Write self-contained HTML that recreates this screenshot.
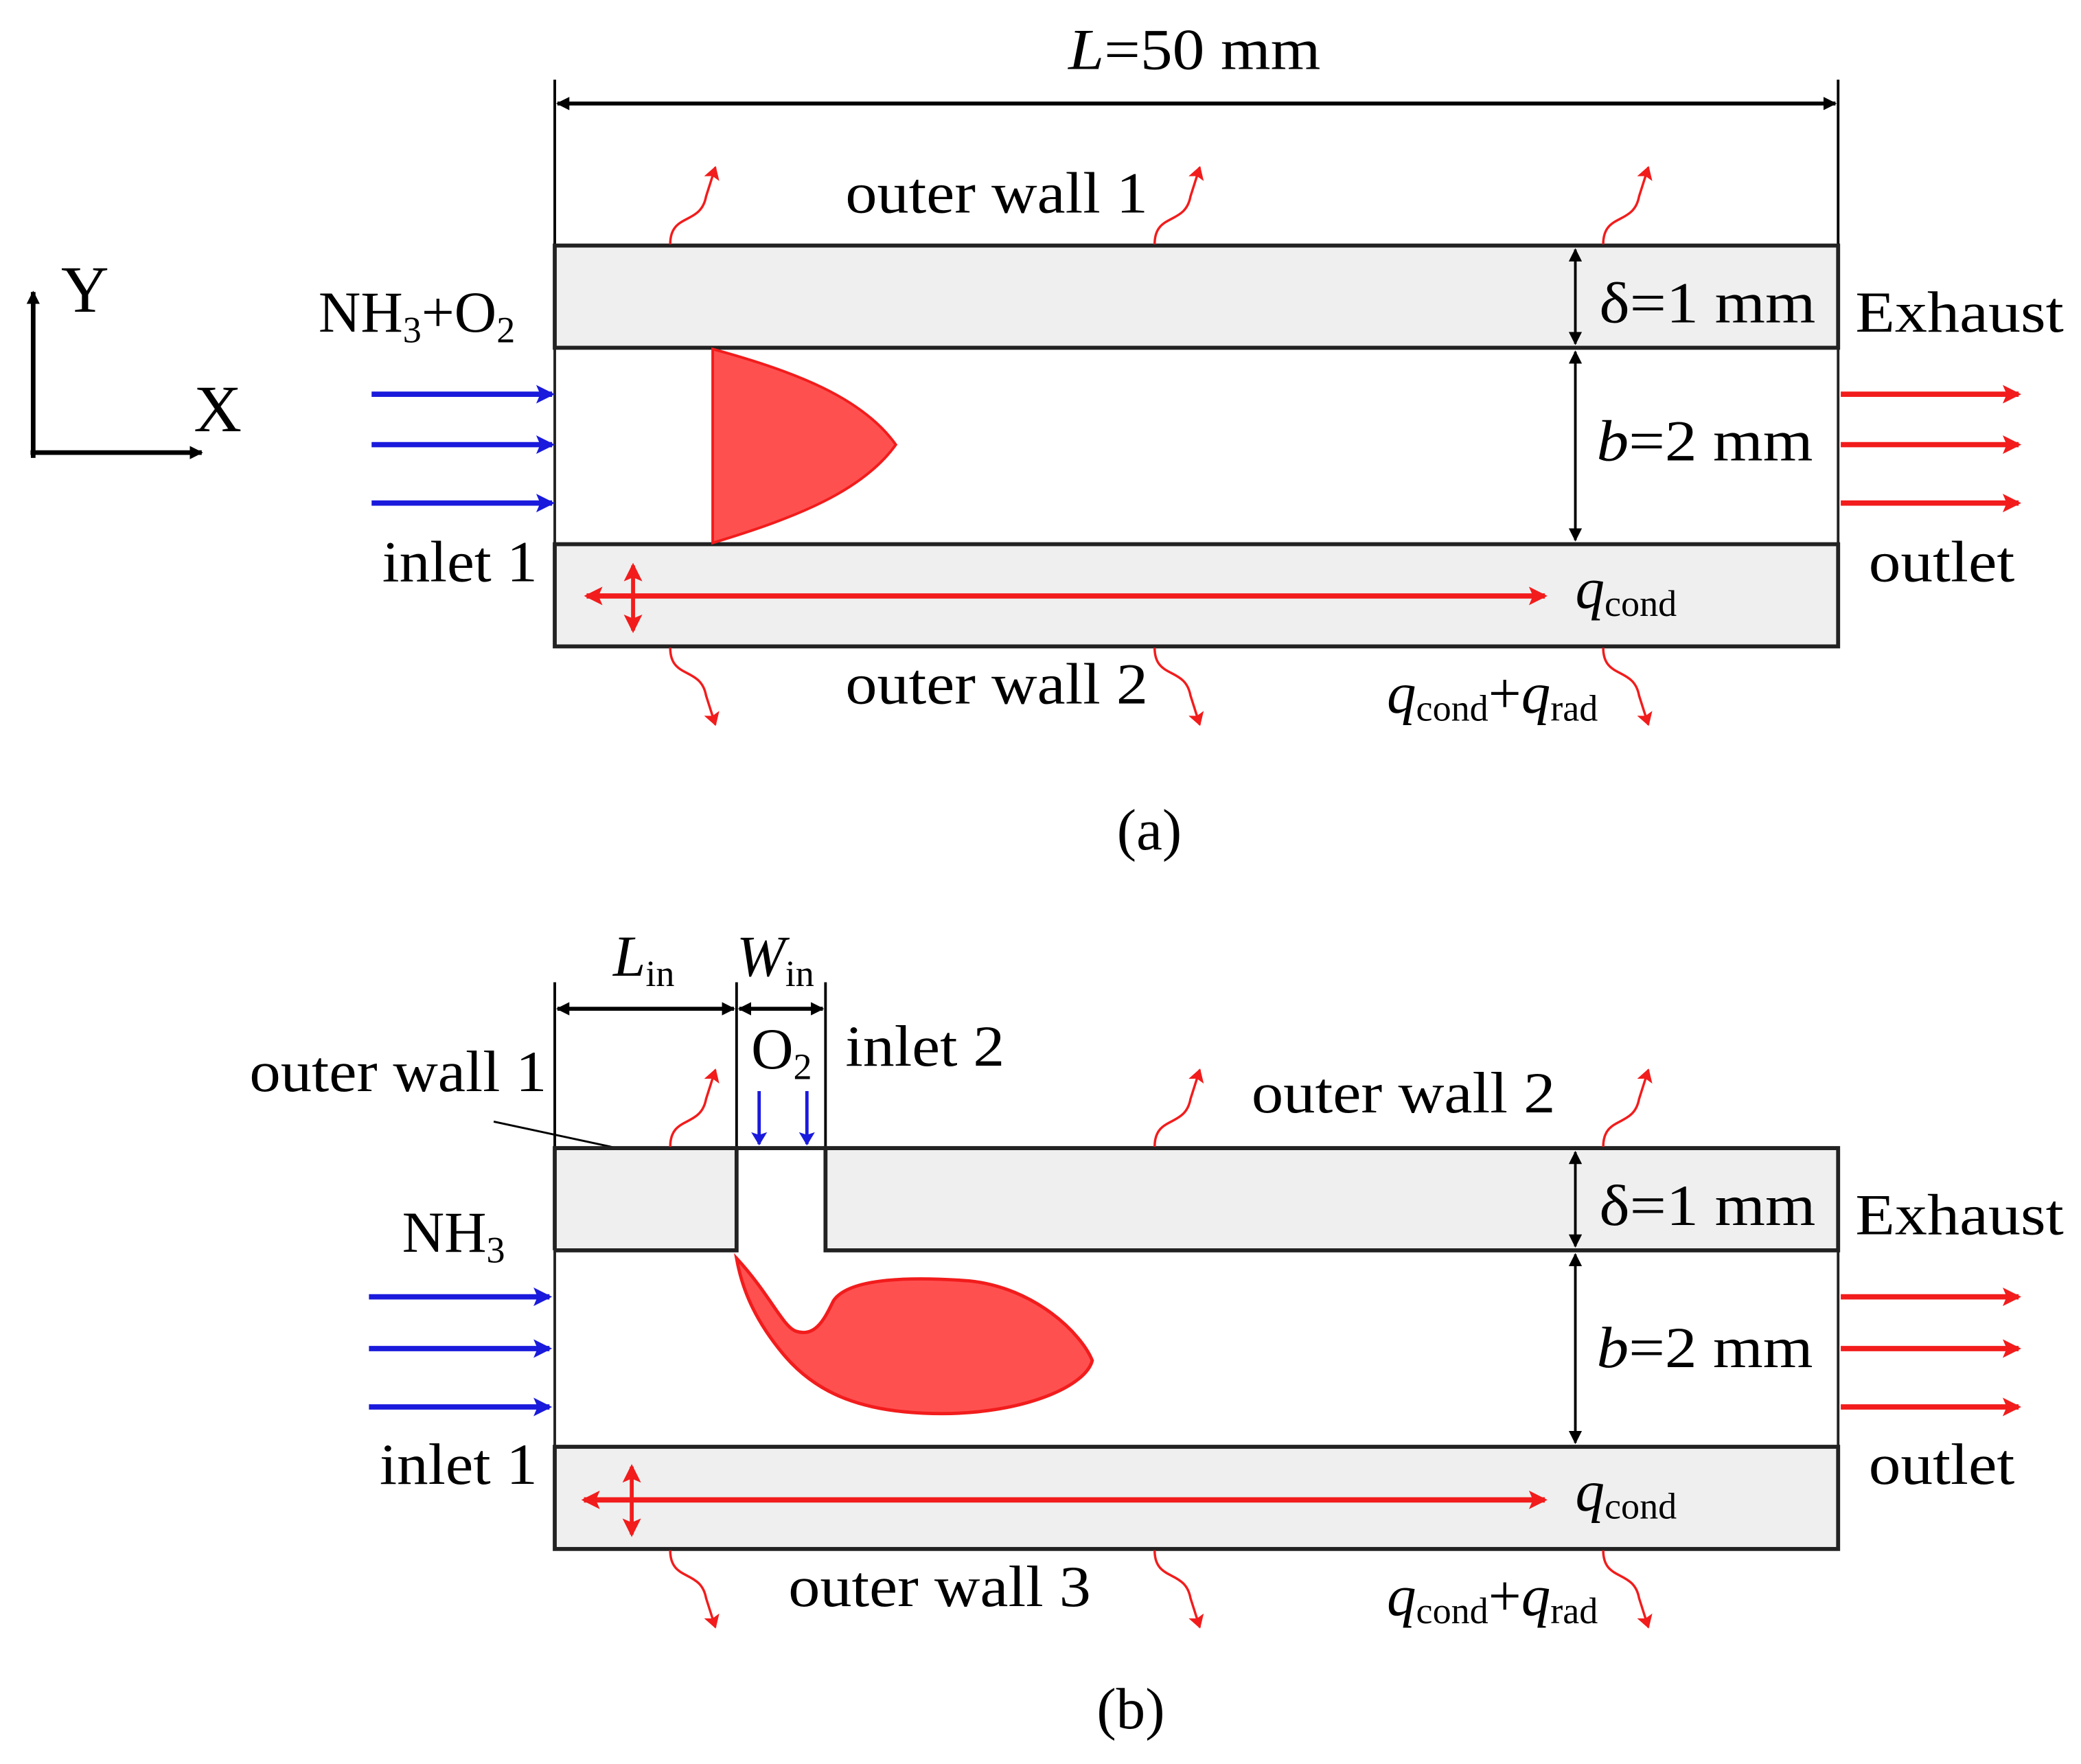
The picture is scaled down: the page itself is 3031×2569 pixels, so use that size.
<!DOCTYPE html>
<html><head><meta charset="utf-8"><style>html,body{margin:0;padding:0;background:#fff}svg{display:block}</style></head>
<body>
<svg width="3031" height="2569" viewBox="0 0 1568 1329" xmlns="http://www.w3.org/2000/svg" font-family="Liberation Serif, serif" font-size="44">
<defs>
<marker id="ak" markerWidth="10" markerHeight="10" refX="9" refY="5" orient="auto-start-reverse" markerUnits="userSpaceOnUse"><path d="M0,0 L10,5 L0,10 z" fill="#000"/></marker>
<marker id="ab" markerWidth="14" markerHeight="14" refX="12" refY="7" orient="auto" markerUnits="userSpaceOnUse"><path d="M0,0 L14,7 L0,14 L3,7 z" fill="#1a1adc"/></marker>
<marker id="ar" markerWidth="14" markerHeight="14" refX="12" refY="7" orient="auto-start-reverse" markerUnits="userSpaceOnUse"><path d="M0,0 L14,7 L0,14 L3,7 z" fill="#f21c1c"/></marker>
<marker id="ars" markerWidth="10" markerHeight="12" refX="9" refY="6" orient="auto" markerUnits="userSpaceOnUse"><path d="M0,0 L10,6 L0,12 L2,6 z" fill="#f21c1c"/></marker>
<marker id="abs" markerWidth="10" markerHeight="12" refX="9" refY="6" orient="auto" markerUnits="userSpaceOnUse"><path d="M0,0 L10,6 L0,12 L2,6 z" fill="#1a1adc"/></marker>
</defs>

<!-- ===== (a) ===== -->
<g>
<text x="805" y="52" textLength="190" lengthAdjust="spacingAndGlyphs"><tspan font-style="italic">L</tspan>=50 mm</text>
<line x1="418" y1="60" x2="418" y2="185" stroke="#000" stroke-width="2"/>
<line x1="1385" y1="60" x2="1385" y2="185" stroke="#000" stroke-width="2"/>
<line x1="420" y1="78" x2="1383" y2="78" stroke="#000" stroke-width="3" marker-start="url(#ak)" marker-end="url(#ak)"/>
<rect x="418" y="185" width="967" height="77" fill="#efefef" stroke="#222" stroke-width="3"/>
<rect x="418" y="410" width="967" height="77" fill="#efefef" stroke="#222" stroke-width="3"/>
<line x1="418" y1="262" x2="418" y2="410" stroke="#222" stroke-width="2"/>
<line x1="1385" y1="262" x2="1385" y2="410" stroke="#222" stroke-width="2"/>
<path d="M537,263 C600,280 650,300 675,335 C650,370 600,390 537,409 Z" fill="#ff5050" stroke="#f21c1c" stroke-width="2"/>
<line x1="1187" y1="188" x2="1187" y2="259" stroke="#000" stroke-width="2" marker-start="url(#ak)" marker-end="url(#ak)"/>
<line x1="1187" y1="265" x2="1187" y2="407" stroke="#000" stroke-width="2" marker-start="url(#ak)" marker-end="url(#ak)"/>
<text x="1205" y="243" textLength="163" lengthAdjust="spacingAndGlyphs">δ=1 mm</text>
<text x="1203" y="347" textLength="163" lengthAdjust="spacingAndGlyphs"><tspan font-style="italic">b</tspan>=2 mm</text>
<text x="1398" y="250" textLength="157" lengthAdjust="spacingAndGlyphs">Exhaust</text>
<text x="240" y="250">NH<tspan font-size="28" dy="8">3</tspan><tspan dy="-8">+O</tspan><tspan font-size="28" dy="8">2</tspan></text>
<line x1="25" y1="345" x2="25" y2="220" stroke="#000" stroke-width="3.5" marker-end="url(#ak)"/>
<line x1="23" y1="341" x2="152" y2="341" stroke="#000" stroke-width="3.5" marker-end="url(#ak)"/>
<text x="46" y="235" font-size="50">Y</text>
<text x="146" y="325" font-size="50">X</text>
<g stroke="#1a1adc" stroke-width="4">
<line x1="280" y1="297" x2="416" y2="297" marker-end="url(#ab)"/>
<line x1="280" y1="335" x2="416" y2="335" marker-end="url(#ab)"/>
<line x1="280" y1="379" x2="416" y2="379" marker-end="url(#ab)"/>
</g>
<g stroke="#f21c1c" stroke-width="4">
<line x1="1387" y1="297" x2="1521" y2="297" marker-end="url(#ar)"/>
<line x1="1387" y1="335" x2="1521" y2="335" marker-end="url(#ar)"/>
<line x1="1387" y1="379" x2="1521" y2="379" marker-end="url(#ar)"/>
<line x1="442" y1="449" x2="1164" y2="449" marker-start="url(#ar)" marker-end="url(#ar)"/>
<line x1="477" y1="426" x2="477" y2="475" stroke-width="3" marker-start="url(#ar)" marker-end="url(#ar)"/>
</g>
<text x="288" y="438" textLength="117" lengthAdjust="spacingAndGlyphs">inlet 1</text>
<text x="1408" y="438" textLength="110" lengthAdjust="spacingAndGlyphs">outlet</text>
<text x="1187" y="458" font-style="italic">q<tspan font-style="normal" font-size="28" dy="6">cond</tspan></text>
<g fill="none" stroke="#f21c1c" stroke-width="1.8">
<path d="M505,184 C505,160 528,170 532,148 L539,126" marker-end="url(#ars)"/>
<path d="M870,184 C870,160 893,170 897,148 L904,126" marker-end="url(#ars)"/>
<path d="M1208,184 C1208,160 1231,170 1235,148 L1242,126" marker-end="url(#ars)"/>
<path d="M505,488 C505,512 528,502 532,524 L539,546" marker-end="url(#ars)"/>
<path d="M870,488 C870,512 893,502 897,524 L904,546" marker-end="url(#ars)"/>
<path d="M1208,488 C1208,512 1231,502 1235,524 L1242,546" marker-end="url(#ars)"/>
</g>
<text x="637" y="160" textLength="228" lengthAdjust="spacingAndGlyphs">outer wall 1</text>
<text x="637" y="530" textLength="228" lengthAdjust="spacingAndGlyphs">outer wall 2</text>
<text x="1045" y="537" font-style="italic">q<tspan font-style="normal" font-size="28" dy="6">cond</tspan><tspan font-style="normal" dy="-6">+</tspan>q<tspan font-style="normal" font-size="28" dy="6">rad</tspan></text>
<text x="866" y="640" text-anchor="middle">(a)</text>
</g>

<!-- ===== (b) ===== -->
<g>
<line x1="418" y1="740" x2="418" y2="865" stroke="#000" stroke-width="2"/>
<line x1="555" y1="740" x2="555" y2="865" stroke="#000" stroke-width="2"/>
<line x1="622" y1="740" x2="622" y2="865" stroke="#000" stroke-width="2"/>
<line x1="420" y1="760" x2="553" y2="760" stroke="#000" stroke-width="3" marker-start="url(#ak)" marker-end="url(#ak)"/>
<line x1="557" y1="760" x2="620" y2="760" stroke="#000" stroke-width="3" marker-start="url(#ak)" marker-end="url(#ak)"/>
<text x="462" y="735"><tspan font-style="italic">L</tspan><tspan font-size="28" dy="8">in</tspan></text>
<text x="555" y="735"><tspan font-style="italic">W</tspan><tspan font-size="28" dy="8">in</tspan></text>
<text x="566" y="805">O<tspan font-size="28" dy="8">2</tspan></text>
<text x="637" y="803" textLength="120" lengthAdjust="spacingAndGlyphs">inlet 2</text>
<text x="188" y="822" textLength="224" lengthAdjust="spacingAndGlyphs">outer wall 1</text>
<line x1="372" y1="845" x2="465" y2="865" stroke="#000" stroke-width="1.5"/>
<rect x="418" y="865" width="137" height="77" fill="#efefef" stroke="none"/>
<rect x="622" y="865" width="763" height="77" fill="#efefef" stroke="none"/>
<path d="M418,942 L418,865 L555,865 L555,942 L418,942" fill="none" stroke="#222" stroke-width="3"/>
<path d="M622,865 L1385,865 L1385,942 L622,942 Z" fill="none" stroke="#222" stroke-width="3"/>
<line x1="555" y1="865" x2="622" y2="865" stroke="#222" stroke-width="3"/>
<rect x="418" y="1090" width="967" height="77" fill="#efefef" stroke="#222" stroke-width="3"/>
<line x1="418" y1="942" x2="418" y2="1090" stroke="#222" stroke-width="2"/>
<line x1="1385" y1="942" x2="1385" y2="1090" stroke="#222" stroke-width="2"/>
<g stroke="#1a1adc" stroke-width="2.5">
<line x1="572" y1="822" x2="572" y2="862" marker-end="url(#abs)"/>
<line x1="608" y1="822" x2="608" y2="862" marker-end="url(#abs)"/>
</g>
<path d="M555,948 C580,975 590,1000 600,1003 C615,1008 622,992 628,980 C640,962 690,962 730,965 C780,970 815,1005 823,1025 C818,1045 770,1065 710,1065 C650,1065 615,1050 590,1020 C565,990 558,965 555,948 Z" fill="#ff5050" stroke="#f21c1c" stroke-width="2.5"/>
<line x1="1187" y1="868" x2="1187" y2="939" stroke="#000" stroke-width="2" marker-start="url(#ak)" marker-end="url(#ak)"/>
<line x1="1187" y1="945" x2="1187" y2="1087" stroke="#000" stroke-width="2" marker-start="url(#ak)" marker-end="url(#ak)"/>
<text x="1205" y="923" textLength="163" lengthAdjust="spacingAndGlyphs">δ=1 mm</text>
<text x="1203" y="1030" textLength="163" lengthAdjust="spacingAndGlyphs"><tspan font-style="italic">b</tspan>=2 mm</text>
<text x="1398" y="930" textLength="157" lengthAdjust="spacingAndGlyphs">Exhaust</text>
<text x="303" y="943">NH<tspan font-size="28" dy="8">3</tspan></text>
<g stroke="#1a1adc" stroke-width="4">
<line x1="278" y1="977" x2="414" y2="977" marker-end="url(#ab)"/>
<line x1="278" y1="1016" x2="414" y2="1016" marker-end="url(#ab)"/>
<line x1="278" y1="1060" x2="414" y2="1060" marker-end="url(#ab)"/>
</g>
<g stroke="#f21c1c" stroke-width="4">
<line x1="1387" y1="977" x2="1521" y2="977" marker-end="url(#ar)"/>
<line x1="1387" y1="1016" x2="1521" y2="1016" marker-end="url(#ar)"/>
<line x1="1387" y1="1060" x2="1521" y2="1060" marker-end="url(#ar)"/>
<line x1="440" y1="1130" x2="1164" y2="1130" marker-start="url(#ar)" marker-end="url(#ar)"/>
<line x1="476" y1="1105" x2="476" y2="1156" stroke-width="3" marker-start="url(#ar)" marker-end="url(#ar)"/>
</g>
<text x="286" y="1118" textLength="119" lengthAdjust="spacingAndGlyphs">inlet 1</text>
<text x="1408" y="1118" textLength="110" lengthAdjust="spacingAndGlyphs">outlet</text>
<text x="1187" y="1138" font-style="italic">q<tspan font-style="normal" font-size="28" dy="6">cond</tspan></text>
<g fill="none" stroke="#f21c1c" stroke-width="1.8">
<path d="M505,864 C505,840 528,850 532,828 L539,806" marker-end="url(#ars)"/>
<path d="M870,864 C870,840 893,850 897,828 L904,806" marker-end="url(#ars)"/>
<path d="M1208,864 C1208,840 1231,850 1235,828 L1242,806" marker-end="url(#ars)"/>
<path d="M505,1168 C505,1192 528,1182 532,1204 L539,1226" marker-end="url(#ars)"/>
<path d="M870,1168 C870,1192 893,1182 897,1204 L904,1226" marker-end="url(#ars)"/>
<path d="M1208,1168 C1208,1192 1231,1182 1235,1204 L1242,1226" marker-end="url(#ars)"/>
</g>
<text x="943" y="838" textLength="229" lengthAdjust="spacingAndGlyphs">outer wall 2</text>
<text x="594" y="1210" textLength="228" lengthAdjust="spacingAndGlyphs">outer wall 3</text>
<text x="1045" y="1217" font-style="italic">q<tspan font-style="normal" font-size="28" dy="6">cond</tspan><tspan font-style="normal" dy="-6">+</tspan>q<tspan font-style="normal" font-size="28" dy="6">rad</tspan></text>
<text x="852" y="1302" text-anchor="middle">(b)</text>
</g>
</svg>
</body></html>
